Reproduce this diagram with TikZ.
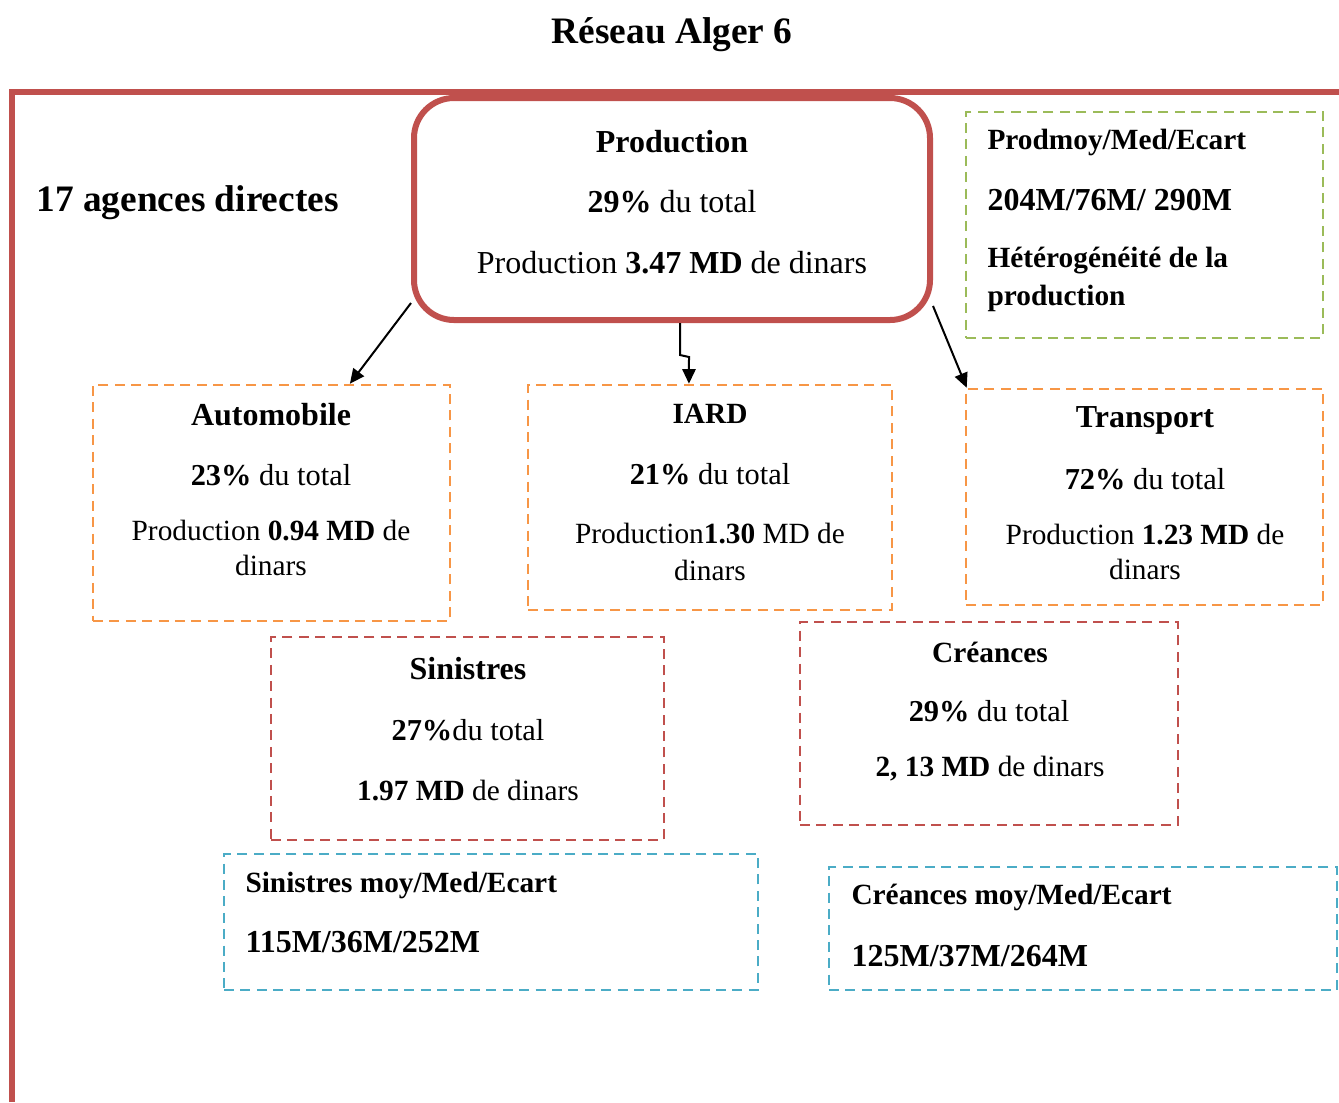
\documentclass[tikz,border=0pt]{standalone}
\usepackage{fontspec}
\setmainfont{Liberation Serif}
\usetikzlibrary{arrows.meta}
\definecolor{frameRed}{HTML}{C0504D}
\definecolor{dashOrange}{HTML}{F79646}
\definecolor{dashGreen}{HTML}{9BBB59}
\definecolor{dashBlue}{HTML}{4BACC6}
\tikzset{
  px/.style={x=0.375pt,y=-0.375pt},
  dbox/.style={draw=#1,line width=0.95pt,dash pattern=on 3.75pt off 2.4pt,
    inner sep=0pt,anchor=center},
  bigt/.style={font=\fontsize{14}{16}\selectfont\bfseries,inner sep=0pt},
  txt/.style={font=\fontsize{12}{14}\selectfont,inner sep=0pt},
  ptxt/.style={font=\fontsize{11.4}{13}\selectfont,inner sep=0pt},
  stxt/.style={font=\fontsize{11}{13}\selectfont,inner sep=0pt},
  arr/.style={line width=0.75pt,-{Triangle[length=5.5pt,width=5pt]}},
}
\begin{document}
\begin{tikzpicture}[px]
\useasboundingbox (0,0) rectangle (1339,1102);

% title
\node[bigt] (title) at (672,35) {Réseau Alger 6};

% outer frame (only top and left edges)
\coordinate (fbl) at (12,1102);
\coordinate (ftl) at (12,92);
\coordinate (ftr) at (1339,92);
\draw[frameRed,line width=1.9pt] (fbl) -- (ftl) -- (ftr);

\node[bigt,anchor=west] (agences) at (36,203) {17 agences directes};

% production box
\node[draw=frameRed,line width=2.25pt,rounded corners=15pt,
  minimum width=193.5pt,minimum height=83.25pt,inner sep=0pt] (prod) at (672,209) {};
\node[txt] (p1) at (672,142) {\textbf{Production}};
\node[txt] (p2) at (672,202) {\textbf{29\%} du total};
\node[txt] (p3) at (672,263) {Production \textbf{3.47 MD} de dinars};

% production statistics
\node[dbox=dashGreen,minimum width=133.9pt,minimum height=84.75pt] (pstat) at (1144.5,225) {};
\node[stxt,anchor=west] (ps1) at (987,142) {\textbf{Prodmoy/Med/Ecart}};
\node[txt,anchor=west] (ps2) at (987,200) {\textbf{204M/76M/ 290M}};
\node[stxt,anchor=west] (ps3) at (987,261) {\textbf{Hétérogénéité de la}};
\node[stxt,anchor=west] (ps4) at (987,298) {\textbf{production}};

% branches
\node[dbox=dashOrange,minimum width=133.9pt,minimum height=88.5pt] (auto) at (271.5,503) {};
\node[txt] (a1) at (271,415) {\textbf{Automobile}};
\node[ptxt] (a2) at (271,475) {\textbf{23\%} du total};
\node[stxt] (a3) at (271,531) {Production \textbf{0.94 MD} de};
\node[stxt] (a4) at (271,565) {dinars};

\node[dbox=dashOrange,minimum width=136.5pt,minimum height=84.4pt] (iard) at (710,497.5) {};
\node[stxt] (i1) at (710,414) {\textbf{IARD}};
\node[ptxt] (i2) at (710,474) {\textbf{21\%} du total};
\node[stxt] (i3) at (710,534) {Production\textbf{1.30} MD de};
\node[stxt] (i4) at (710,570) {dinars};

\node[dbox=dashOrange,minimum width=133.9pt,minimum height=81pt] (trans) at (1144.5,497) {};
\node[txt] (t1) at (1145,420) {\textbf{Transport}};
\node[ptxt] (t2) at (1145,479) {\textbf{72\%} du total};
\node[stxt] (t3) at (1145,535) {Production \textbf{1.23 MD} de};
\node[stxt] (t4) at (1145,569) {dinars};

% claims and receivables
\node[dbox=frameRed,minimum width=147.4pt,minimum height=76.1pt] (sin) at (467.5,738.5) {};
\node[txt] (s1) at (468,669) {\textbf{Sinistres}};
\node[ptxt] (s2) at (468,730) {\textbf{27\%}du total};
\node[stxt] (s3) at (468,791) {\textbf{1.97 MD} de dinars};

\node[dbox=frameRed,minimum width=141.75pt,minimum height=76.1pt] (cre) at (989,723.5) {};
\node[stxt] (c1) at (990,652) {\textbf{Créances}};
\node[ptxt] (c2) at (989,711) {\textbf{29\%} du total};
\node[stxt] (c3) at (990,769) {\textbf{2, 13 MD} de dinars};

\node[dbox=dashBlue,minimum width=200.25pt,minimum height=51pt] (sinstat) at (491,922) {};
\node[stxt,anchor=west] (ss1) at (245,885) {\textbf{Sinistres moy/Med/Ecart}};
\node[txt,anchor=west] (ss2) at (245,942) {\textbf{115M/36M/252M}};

\node[dbox=dashBlue,minimum width=190.5pt,minimum height=46.1pt] (crestat) at (1083,928.5) {};
\node[stxt,anchor=west] (cs1) at (851,897) {\textbf{Créances moy/Med/Ecart}};
\node[txt,anchor=west] (cs2) at (851,956) {\textbf{125M/37M/264M}};

% connectors
\draw[arr] ([yshift=7.5pt]prod.south west) -- ([xshift=29.4pt]auto.north);
\draw[arr] ([xshift=3pt]prod.south) -- ++(0,32) -- ++(9,2) -- ([xshift=-7.9pt]iard.north);
\draw[arr] ([yshift=6.4pt]prod.south east) -- ([xshift=0.75pt]trans.north west);
\end{tikzpicture}
\end{document}
